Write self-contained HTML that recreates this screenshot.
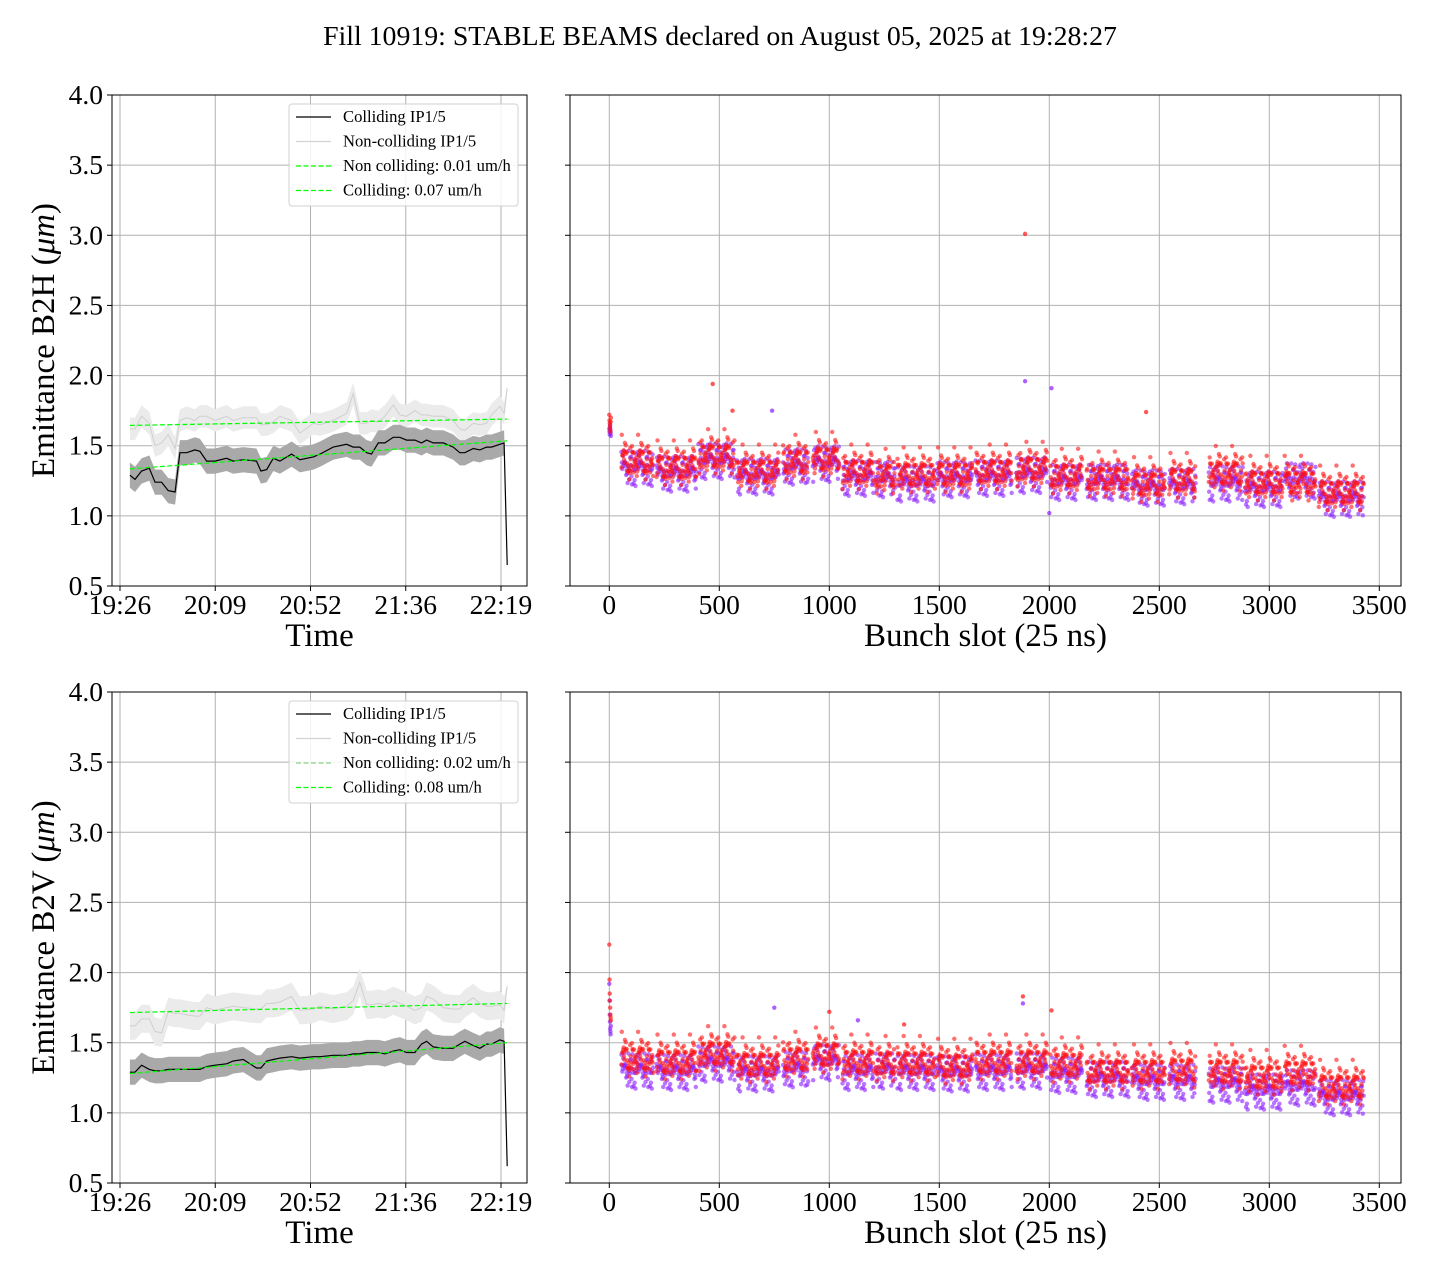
<!DOCTYPE html>
<html><head><meta charset="utf-8">
<style>
body{margin:0;background:#fff;}
svg{display:block;font-family:"Liberation Serif",serif;}
</style></head>
<body>
<svg id="fig" width="1440" height="1280" viewBox="0 0 1440 1280" xmlns="http://www.w3.org/2000/svg">
<rect width="1440" height="1280" fill="#fff"/>
<text x="720" y="45" text-anchor="middle" font-size="27.8">Fill 10919: STABLE BEAMS declared on August 05, 2025 at 19:28:27</text>
<g id="root"></g>
</svg>
<script>
// ---- time series data (minutes after 19:26) ----
const times = [4.5,6.8,9.8,13.3,15.9,18.9,21.9,25.0,27.2,30.3,34.0,36.3,39.3,43.1,48.4,51.4,56.0,62.0,64.0,66.6,69.6,72.6,77.9,81.7,87.8,90.8,96.8,102.9,105.9,108.9,112.0,114.2,117.3,120.3,124.1,127.1,130.1,133.9,136.9,139.2,142.2,146.8,151.3,154.3,156.6,160.4,163.4,166.4,168.7,172.5,174.4,175.8];
const topColliding = [1.29,1.26,1.32,1.34,1.24,1.24,1.18,1.17,1.45,1.45,1.47,1.46,1.39,1.39,1.41,1.39,1.40,1.39,1.32,1.33,1.41,1.39,1.44,1.40,1.42,1.44,1.49,1.51,1.49,1.49,1.45,1.44,1.52,1.52,1.56,1.56,1.54,1.54,1.52,1.54,1.52,1.52,1.49,1.45,1.45,1.48,1.47,1.49,1.49,1.51,1.52,0.65];
const topNonColliding = [1.62,1.62,1.71,1.66,1.50,1.52,1.58,1.48,1.68,1.70,1.68,1.71,1.71,1.68,1.71,1.68,1.70,1.70,1.65,1.65,1.67,1.71,1.68,1.59,1.66,1.65,1.68,1.73,1.87,1.66,1.66,1.68,1.67,1.71,1.79,1.72,1.71,1.75,1.72,1.72,1.71,1.71,1.68,1.62,1.61,1.66,1.65,1.66,1.72,1.78,1.73,1.91];
const botColliding = [1.29,1.29,1.34,1.31,1.30,1.30,1.31,1.31,1.31,1.31,1.31,1.31,1.33,1.34,1.35,1.37,1.38,1.32,1.32,1.37,1.38,1.39,1.40,1.39,1.40,1.40,1.41,1.41,1.42,1.42,1.43,1.43,1.43,1.42,1.44,1.45,1.43,1.43,1.49,1.51,1.47,1.46,1.46,1.49,1.51,1.48,1.46,1.49,1.49,1.52,1.51,0.62];
const botNonColliding = [1.62,1.62,1.67,1.67,1.58,1.57,1.72,1.71,1.71,1.70,1.69,1.69,1.75,1.73,1.75,1.76,1.75,1.74,1.74,1.78,1.78,1.79,1.83,1.73,1.74,1.76,1.74,1.76,1.80,1.93,1.77,1.77,1.78,1.77,1.80,1.78,1.76,1.73,1.75,1.83,1.81,1.75,1.74,1.74,1.78,1.82,1.78,1.76,1.76,1.77,1.73,1.90];
const topFitNonColl = [1.645, 1.69];
const topFitColl = [1.335, 1.535];
const botFitNonColl = [1.715, 1.78];
const botFitColl = [1.28, 1.50];
const timeTickLabels = ["19:26","20:09","20:52","21:36","22:19"];
const timeTickMinutes = [0, 43.25, 86.5, 129.75, 173];
const yTicks = [0.5,1.0,1.5,2.0,2.5,3.0,3.5,4.0];
const slotTicks = [0,500,1000,1500,2000,2500,3000,3500];
// ---- bunch-by-bunch (train level) data ----
const trainStart = [55,215,405,580,790,925,1060,1210,1310,1490,1665,1850,2005,2170,2375,2545,2725,2890,3070,3225];
const trainEnd   = [200,395,570,770,905,1045,1200,1300,1480,1650,1830,1990,2150,2360,2525,2665,2880,3060,3210,3430];
const topRed    = [1.40,1.36,1.44,1.33,1.40,1.42,1.33,1.30,1.31,1.31,1.33,1.35,1.30,1.28,1.24,1.27,1.32,1.25,1.25,1.18];
const topPurple = [1.35,1.31,1.40,1.29,1.36,1.38,1.28,1.27,1.24,1.27,1.28,1.30,1.25,1.25,1.21,1.22,1.24,1.20,1.26,1.13];
const botRed    = [1.40,1.38,1.44,1.36,1.40,1.43,1.38,1.37,1.37,1.35,1.38,1.38,1.36,1.31,1.31,1.32,1.31,1.27,1.30,1.20];
const botPurple = [1.31,1.30,1.36,1.29,1.32,1.37,1.30,1.31,1.30,1.29,1.30,1.31,1.28,1.25,1.23,1.23,1.21,1.16,1.19,1.12];
const firstSlots = [0,1,2,3,4,5,6,7];
const topFirstRed = [1.72,1.68,1.66,1.64,1.62,1.60,1.67,1.70];
const topFirstPurple = [1.62,1.60,1.58,1.63,1.65,1.61,1.59,1.57];
const botFirstRed = [2.20,1.95,1.85,1.80,1.75,1.70,1.68,1.66];
const botFirstPurple = [1.92,1.80,1.70,1.65,1.60,1.58,1.56,1.62];
const topOutSlots = [1890,1890,470,2010,2440,740,560,2000];
const topOutVals  = [3.01,1.96,1.94,1.91,1.74,1.75,1.75,1.02];
const botOutSlots = [1880,1880,2010,750,1000,1130,1340];
const botOutVals  = [1.83,1.78,1.73,1.75,1.72,1.66,1.63];
const jitter = [0.02,-0.05,0.07,-0.01,0.04,-0.08,0.00,0.06,-0.03,0.09,-0.06,0.03,-0.10,0.05,-0.02,0.01,-0.07,0.08,-0.04,0.10,-0.09,0.03,0.00,-0.05,0.06,-0.02,0.04,-0.06,0.12,-0.11,0.01,0.05,-0.03,0.07,-0.08,0.02,-0.01];

const NS="http://www.w3.org/2000/svg";
const root=document.getElementById('root');
function el(tag,attrs,parent){const e=document.createElementNS(NS,tag);for(const k in attrs)e.setAttribute(k,attrs[k]);(parent||root).appendChild(e);return e;}

const L={x0:112,x1:527}, R={x0:570,x1:1401};
const panelsY=[{y0:95,y1:586},{y0:692,y1:1183}];
function yS(P,v){return P.y1-(v-0.5)*(P.y1-P.y0)/3.5;}
function tS(m){return 120+m*(381/173);}
function sS(s){return 609.3+s*0.22;}

function drawGridAndAxes(P,X,isLeft,xTicksPx,xLabels,xTitle,row,side){
  const g=el('g',{});
  
  
  yTicks.forEach(v=>{const y=yS(P,v);
    const gl=el('line',{x1:X.x0,x2:X.x1,y1:y,y2:y,stroke:'#b0b0b0','stroke-width':1},g);
    
    
    el('line',{x1:X.x0-5,x2:X.x0,y1:y,y2:y,stroke:'#000','stroke-width':1},g);
    if(isLeft){const t=el('text',{x:X.x0-9,y:y+9,'text-anchor':'end','font-size':27.5},g);t.textContent=v.toFixed(1);
      
      }
  });
  xTicksPx.forEach((x,i)=>{
    const gl=el('line',{x1:x,x2:x,y1:P.y0,y2:P.y1,stroke:'#b0b0b0','stroke-width':1},g);
    
    
    el('line',{x1:x,x2:x,y1:P.y1,y2:P.y1+5,stroke:'#000','stroke-width':1},g);
    const t=el('text',{x:x,y:P.y1+28,'text-anchor':'middle','font-size':27.5},g);t.textContent=xLabels[i];
    
    
  });
  const xt=el('text',{x:(X.x0+X.x1)/2,y:P.y1+60,'text-anchor':'middle','font-size':33},g);xt.textContent=xTitle;
  
  
  return g;
}
function frame(P,X){const r=el('rect',{x:X.x0,y:P.y0,width:X.x1-X.x0,height:P.y1-P.y0,fill:'none',stroke:'#000','stroke-width':1});
  
  }

function band(P,vals,hw,fill,name){
  let d='';times.forEach((t,i)=>{const w=i===times.length-1?0.02:hw;d+=(i?'L':'M')+tS(t).toFixed(1)+','+yS(P,vals[i]+w).toFixed(1);});
  for(let i=times.length-1;i>=0;i--){const w=i===times.length-1?0.02:hw;d+='L'+tS(times[i]).toFixed(1)+','+yS(P,vals[i]-w).toFixed(1);}
  const p=el('path',{d:d+'Z',fill:fill,stroke:'none'});
  
  
}
function line(P,vals,stroke,w,name){
  const pts=times.map((t,i)=>tS(t).toFixed(1)+','+yS(P,vals[i]).toFixed(1)).join(' ');
  const p=el('polyline',{points:pts,fill:'none',stroke:stroke,'stroke-width':w});
  
  
}
function fit(P,f,w,name){
  const p=el('line',{x1:tS(times[0]),x2:tS(times[times.length-1]),y1:yS(P,f[0]),y2:yS(P,f[1]),stroke:'#00ff00','stroke-width':w,'stroke-dasharray':'5,2.5'});
  
  
}
function legend(P,txt2,txt3,row){
  const g=el('g',{});
  
  
  const y0=P.y0+9;
  el('rect',{x:289,y:y0,width:229,height:102,rx:3,fill:'#fff','fill-opacity':0.85,stroke:'#d0d0d0'},g);
  const c2=row===1?'#44bb44':'#00ff00', w2=row===1?0.8:1.2;
  const items=[['Colliding IP1/5','#000',1.2,null],['Non-colliding IP1/5','#d3d3d3',1.2,null],[txt2,c2,w2,'5,2.5'],[txt3,'#00ff00',1.2,'5,2.5']];
  items.forEach((it,i)=>{const y=y0+13+i*24.5;
    const ln=el('line',{x1:296,x2:331,y1:y,y2:y,stroke:it[1],'stroke-width':it[2]},g);
    if(it[3])ln.setAttribute('stroke-dasharray',it[3]);
    const t=el('text',{x:343,y:y+5,'font-size':16.6},g);t.textContent=it[0];
    
    
  });
}
function scatter(P,meansRed,meansPurple,firstRed,firstPurple,outS,outV,row){
  const g=el('g',{});
  
  
  const series=[[meansPurple,firstPurple,'#8a1cff',7],[meansRed,firstRed,'#ff1010',3]];
  const n=jitter.length;
  series.forEach(([means,first,col,off])=>{
    first.forEach((v,i)=>el('circle',{cx:sS(firstSlots[i]),cy:yS(P,v),r:2.2,fill:col,'fill-opacity':0.65},g));
    let k=off;
    trainStart.forEach((s0,ti)=>{
      for(let s=s0;s<=trainEnd[ti];s+=2){k++;
        const j=jitter[(k*k*3+k*11)%n]+0.6*jitter[(k*k*5+k*17+off)%n]+0.3*jitter[(k*29+3)%n];
        el('circle',{cx:sS(s).toFixed(1),cy:yS(P,means[ti]+j).toFixed(1),r:2.2,fill:col,'fill-opacity':0.6},g);
      }
    });
  });
  outS.forEach((s,i)=>el('circle',{cx:sS(s),cy:yS(P,outV[i]),r:2.2,fill:i%2?'#8a1cff':'#ff1010','fill-opacity':0.7},g));
}

const rows=[
 {P:panelsY[0],col:topColliding,non:topNonColliding,fN:topFitNonColl,fC:topFitColl,lab:'Emittance B2H (',l2:'Non colliding: 0.01 um/h',l3:'Colliding: 0.07 um/h',red:topRed,pur:topPurple,fr:topFirstRed,fp:topFirstPurple,os:topOutSlots,ov:topOutVals,nhw:0.08},
 {P:panelsY[1],col:botColliding,non:botNonColliding,fN:botFitNonColl,fC:botFitColl,lab:'Emittance B2V (',l2:'Non colliding: 0.02 um/h',l3:'Colliding: 0.08 um/h',red:botRed,pur:botPurple,fr:botFirstRed,fp:botFirstPurple,os:botOutSlots,ov:botOutVals,nhw:0.1}
];
rows.forEach((r,ri)=>{
  const P=r.P;
  drawGridAndAxes(P,L,true,timeTickMinutes.map(tS),timeTickLabels,'Time',ri,'left');
  band(P,r.non,r.nhw,'#ebebeb','non-colliding-band');
  line(P,r.non,'#cfcfcf',1,'non-colliding-line');
  band(P,r.col,0.09,'#a9a9a9','colliding-band');
  line(P,r.col,'#000',1.2,'colliding-line');
  fit(P,r.fN,1.2,'non-colliding-fit');
  fit(P,r.fC,1.2,'colliding-fit');
  frame(P,L);
  legend(P,r.l2,r.l3,ri);
  const yl=el('text',{x:0,y:0,'text-anchor':'middle','font-size':33,transform:'translate(54,'+((P.y0+P.y1)/2)+') rotate(-90)'});
  yl.innerHTML=r.lab+'<tspan font-style="italic">μm</tspan>)';
  
  
  drawGridAndAxes(P,R,false,slotTicks.map(sS),slotTicks.map(String),'Bunch slot (25 ns)',ri,'right');
  scatter(P,r.red,r.pur,r.fr,r.fp,r.os,r.ov,ri);
  frame(P,R);
});
</script>
</body></html>
